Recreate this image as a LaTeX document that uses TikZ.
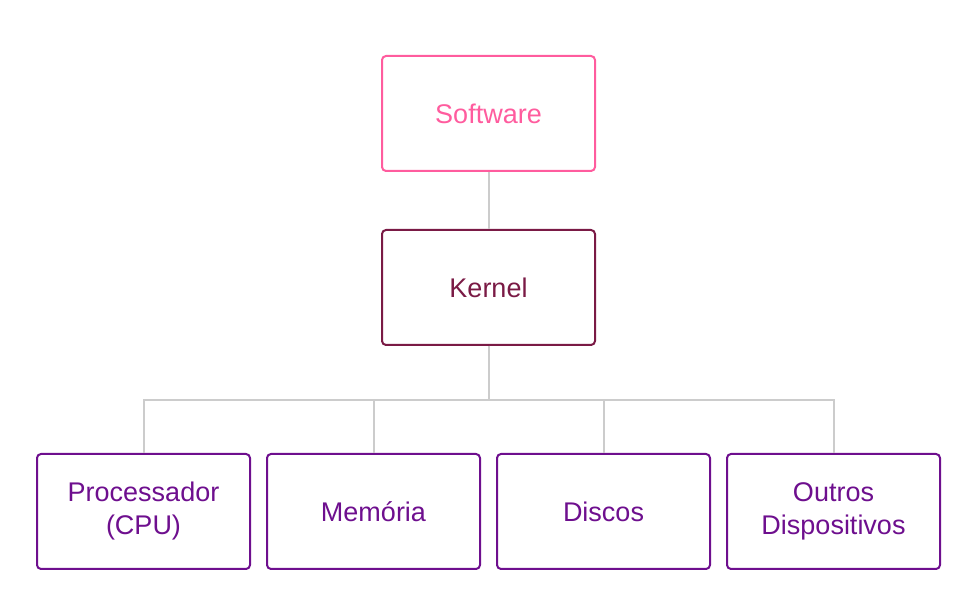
\documentclass[tikz,border=0pt]{standalone}
\usepackage{fontspec}
\setmainfont{Liberation Sans}
\usetikzlibrary{positioning}

\definecolor{softpink}{HTML}{FF5C9E}
\definecolor{kernred}{HTML}{7A1A45}
\definecolor{hwpurple}{HTML}{6E0F8E}
\definecolor{linkgrey}{HTML}{CCCCCC}

\begin{document}
\begin{tikzpicture}[
            box/.style = {draw, rectangle, rounded corners=4pt, line width=2pt,
                minimum width=213pt, minimum height=115pt, align=center,
                font=\fontsize{27}{33}\selectfont}, % common box look
            sw/.style = {box, draw=softpink, text=softpink},
            kern/.style = {box, draw=kernred, text=kernred},
            hw/.style = {box, draw=hwpurple, text=hwpurple},
            link/.style = {draw=linkgrey, line width=2pt}, % grey connector
            node distance = 15pt
        ]

    \useasboundingbox (0,0) rectangle (974pt,609pt);

    \node[sw] (software) at (488.5pt,495.5pt) {Software};
	\node[kern] (kernel) [below=57pt of software] {Kernel};
	\node[hw] (cpu) at (143.5pt,97.5pt) {Processador\\(CPU)};
	\node[hw] (mem) [right=15pt of cpu] {Memória};
	\node[hw] (disk) [right=15pt of mem] {Discos};
	\node[hw] (other) [right=15pt of disk] {Outros\\Dispositivos};

	\draw[link] (software) -- (kernel);
	\foreach \n in {cpu,mem,disk,other}
	    \draw[link] (kernel.south) -- ++(0,-54pt) -| (\n.north);

\end{tikzpicture}
\end{document}
